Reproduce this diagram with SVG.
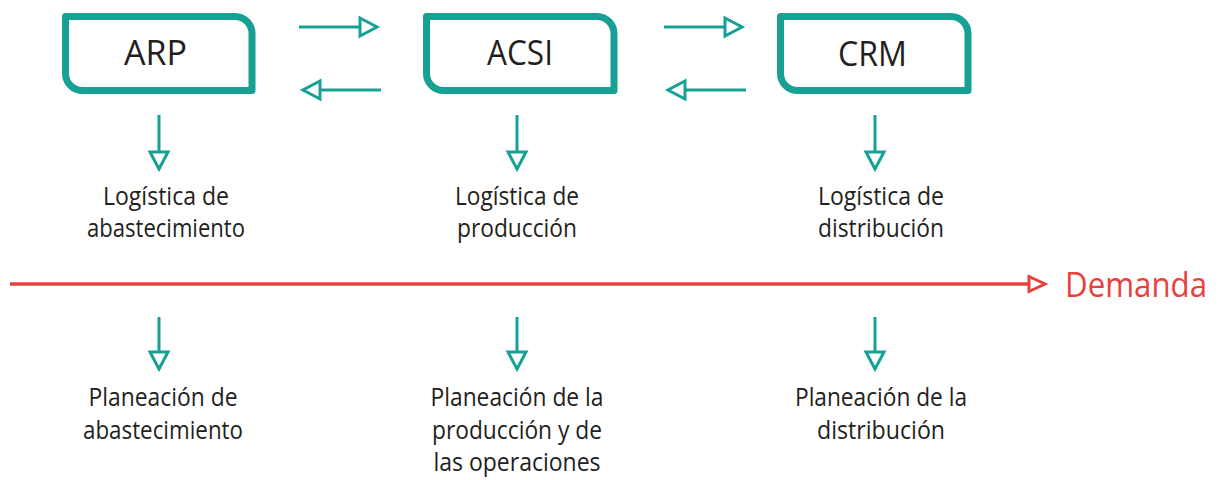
<svg xmlns="http://www.w3.org/2000/svg" width="1223" height="480" viewBox="0 0 1223 480">
<defs>
<style>
.box{fill:#ffffff;stroke:#16a194;stroke-width:7;stroke-linejoin:round}
.lbl{font-family:"Open Sans","Liberation Sans",sans-serif;font-size:35px;fill:#231f20;text-anchor:middle}
.txt{font-family:"Open Sans","Liberation Sans",sans-serif;font-size:25px;fill:#231f20;text-anchor:middle}
.dem{font-family:"Open Sans","Liberation Sans",sans-serif;font-size:35px;fill:#e8403d}
.tl{stroke:#16a194;stroke-width:3;fill:none;marker-end:url(#ah)}
.rl{stroke:#e8403d;stroke-width:3.5;fill:none;marker-end:url(#ahr)}
</style>
<marker id="ah" markerUnits="userSpaceOnUse" viewBox="-3 -12 25 24" markerWidth="25" markerHeight="24" refX="17" refY="0" orient="auto">
<path d="M0,-9 L17,0 L0,9 Z" fill="#ffffff" stroke="#16a194" stroke-width="3"/>
</marker>
<marker id="ahr" markerUnits="userSpaceOnUse" viewBox="-3 -11 25 22" markerWidth="25" markerHeight="22" refX="16" refY="0" orient="auto">
<path d="M0,-7.5 L16,0 L0,7.5 Z" fill="#ffffff" stroke="#e8403d" stroke-width="3"/>
</marker>
</defs>
<rect width="1223" height="480" fill="#ffffff"/>
<g id="connectors">
<line class="tl" x1="299" y1="27" x2="377" y2="27"/>
<line class="tl" x1="381" y1="90" x2="303" y2="90"/>
<line class="tl" x1="664" y1="27" x2="742" y2="27"/>
<line class="tl" x1="746" y1="90" x2="668" y2="90"/>
<line class="tl" x1="159" y1="115" x2="159" y2="169"/>
<line class="tl" x1="517" y1="115" x2="517" y2="169"/>
<line class="tl" x1="875" y1="115" x2="875" y2="169"/>
<line class="tl" x1="159" y1="317" x2="159" y2="369"/>
<line class="tl" x1="517" y1="317" x2="517" y2="369"/>
<line class="tl" x1="875" y1="317" x2="875" y2="369"/>
<line class="rl" x1="10" y1="284" x2="1045" y2="284"/>
</g>
<g id="node-arp">
<path class="box" d="M65.5,16.5 H235 A17,17 0 0 1 252,33.5 V90.5 H82.5 A17,17 0 0 1 65.5,73.5 Z"/>
<text class="lbl" x="155.5" y="65" textLength="63" lengthAdjust="spacingAndGlyphs">ARP</text>
</g>
<g id="node-acsi">
<path class="box" d="M426.5,16.5 H597 A17,17 0 0 1 614,33.5 V90.5 H443.5 A17,17 0 0 1 426.5,73.5 Z"/>
<text class="lbl" x="520" y="65" textLength="66" lengthAdjust="spacingAndGlyphs">ACSI</text>
</g>
<g id="node-crm">
<path class="box" d="M780.5,16.5 H951 A17,17 0 0 1 968,33.5 V90.5 H797.5 A17,17 0 0 1 780.5,73.5 Z"/>
<text class="lbl" x="872.5" y="66" textLength="69" lengthAdjust="spacingAndGlyphs">CRM</text>
</g>
<g id="node-log-abast">
<text class="txt" x="166" y="205" textLength="126" lengthAdjust="spacingAndGlyphs">Logística de</text>
<text class="txt" x="166" y="237" textLength="158" lengthAdjust="spacingAndGlyphs">abastecimiento</text>
</g>
<g id="node-log-prod">
<text class="txt" x="517" y="205" textLength="124" lengthAdjust="spacingAndGlyphs">Logística de</text>
<text class="txt" x="517" y="237" textLength="120" lengthAdjust="spacingAndGlyphs">producción</text>
</g>
<g id="node-log-dist">
<text class="txt" x="881" y="205" textLength="126" lengthAdjust="spacingAndGlyphs">Logística de</text>
<text class="txt" x="881" y="237" textLength="126" lengthAdjust="spacingAndGlyphs">distribución</text>
</g>
<g id="node-demanda">
<text class="dem" x="1065" y="297" textLength="142" lengthAdjust="spacingAndGlyphs">Demanda</text>
</g>
<g id="node-plan-abast">
<text class="txt" x="163" y="406" textLength="149" lengthAdjust="spacingAndGlyphs">Planeación de</text>
<text class="txt" x="163" y="439" textLength="160" lengthAdjust="spacingAndGlyphs">abastecimiento</text>
</g>
<g id="node-plan-prod">
<text class="txt" x="517" y="406" textLength="173" lengthAdjust="spacingAndGlyphs">Planeación de la</text>
<text class="txt" x="517" y="439" textLength="170" lengthAdjust="spacingAndGlyphs">producción y de</text>
<text class="txt" x="517" y="471" textLength="167" lengthAdjust="spacingAndGlyphs">las operaciones</text>
</g>
<g id="node-plan-dist">
<text class="txt" x="881" y="406" textLength="172" lengthAdjust="spacingAndGlyphs">Planeación de la</text>
<text class="txt" x="881" y="439" textLength="128" lengthAdjust="spacingAndGlyphs">distribución</text>
</g>
</svg>
